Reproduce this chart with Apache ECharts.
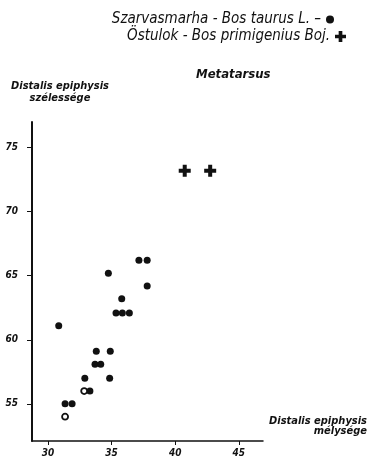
<!DOCTYPE html>
<html>
<head>
<meta charset="utf-8">
<script src="https://cdn.jsdelivr.net/npm/echarts@6/dist/echarts.min.js"></script>
<style>
  html, body { margin: 0; padding: 0; background: #fff; }
  #chart { width: 379px; height: 457px; }
</style>
</head>
<body>
<div id="chart"></div>
<script>
// Bos taurus, filled dots [depth, width]
const taurus = [
  [34.75, 65.2], [37.15, 66.2], [37.8, 66.2], [37.8, 64.2], [35.8, 63.2],
  [35.35, 62.1], [35.85, 62.1], [36.4, 62.1], [30.85, 61.1],
  [33.8, 59.1], [34.9, 59.1], [33.7, 58.1], [34.15, 58.1],
  [32.9, 57.0], [34.85, 57.0], [33.3, 56.0], [31.35, 55.0], [31.9, 55.0]
];
// Bos taurus, dots printed hollow
const taurusOpen = [[32.85, 56.0], [31.35, 54.0]];
// Bos primigenius, crosses
const primigenius = [[40.75, 73.2], [42.75, 73.2]];

const xTicks = [30, 35, 40, 45];
const yTicks = [55, 60, 65, 70, 75];

const nameTaurus = 'Szarvasmarha - Bos taurus L. \u2013';
const namePrim = '\u00d6stulok - Bos primigenius Boj.';

const font = "'DejaVu Sans Condensed', 'DejaVu Sans', sans-serif";
const crossPath = 'path://M4,0H8V4H12V8H8V12H4V8H0V4H4Z';

const chart = echarts.init(document.getElementById('chart'));

const legendText = {
  color: '#111', fontStyle: 'italic', fontSize: 15, fontFamily: font
};

chart.setOption({
  animation: false,
  backgroundColor: '#fff',
  title: {
    text: 'Metatarsus',
    left: 191, top: 63,
    textStyle: { color: '#111', fontStyle: 'italic', fontWeight: 'bold', fontSize: 13, fontFamily: font }
  },
  legend: [
    {
      data: [nameTaurus], orient: 'vertical', align: 'right',
      right: 40, top: 7, itemWidth: 8, itemHeight: 8, itemGap: 4,
      textStyle: legendText
    },
    {
      data: [namePrim], orient: 'vertical', align: 'right',
      right: 28, top: 24, itemWidth: 11, itemHeight: 11, itemGap: 4,
      textStyle: legendText
    }
  ],
  grid: { left: 32, right: 116, top: 122, bottom: 16, outerBoundsMode: 'none', containLabel: false },
  xAxis: {
    type: 'value', min: 28.75, max: 46.9,
    name: 'Distalis epiphysis\nmélysége',
    nameLocation: 'end', nameGap: 104,
    nameTextStyle: {
      align: 'right', verticalAlign: 'bottom', padding: [0, 0, 5, 0],
      color: '#111', fontStyle: 'italic', fontWeight: 'bold', fontSize: 11,
      fontFamily: font, lineHeight: 10
    },
    axisLine: { lineStyle: { color: '#111', width: 1.5 } },
    axisTick: { customValues: xTicks, length: 4, lineStyle: { color: '#111' } },
    axisLabel: {
      customValues: xTicks, margin: 7, color: '#111', fontStyle: 'italic',
      fontWeight: 'bold', fontSize: 10, fontFamily: font
    },
    splitLine: { show: false }
  },
  yAxis: {
    type: 'value', min: 52.1, max: 77,
    name: 'Distalis epiphysis\nszélessége',
    nameLocation: 'end', nameGap: 18,
    nameTextStyle: {
      align: 'center', padding: [0, 0, 0, 56],
      color: '#111', fontStyle: 'italic', fontWeight: 'bold', fontSize: 11,
      fontFamily: font, lineHeight: 12
    },
    axisLine: { lineStyle: { color: '#111', width: 2 } },
    axisTick: { customValues: yTicks, length: 5, lineStyle: { color: '#111' } },
    axisLabel: {
      customValues: yTicks, margin: 14, color: '#111', fontStyle: 'italic',
      fontWeight: 'bold', fontSize: 10, fontFamily: font
    },
    splitLine: { show: false }
  },
  series: [
    {
      name: nameTaurus, type: 'scatter', data: taurus,
      symbol: 'circle', symbolSize: 7,
      itemStyle: { color: '#111', opacity: 1 }
    },
    {
      name: nameTaurus, type: 'scatter', data: taurusOpen,
      symbol: 'circle', symbolSize: 6,
      itemStyle: { color: '#fff', borderColor: '#111', borderWidth: 1.8, opacity: 1 }
    },
    {
      name: namePrim, type: 'scatter', data: primigenius,
      symbol: crossPath, symbolSize: 12,
      itemStyle: { color: '#111', opacity: 1 }
    }
  ]
});
</script>
</body>
</html>
